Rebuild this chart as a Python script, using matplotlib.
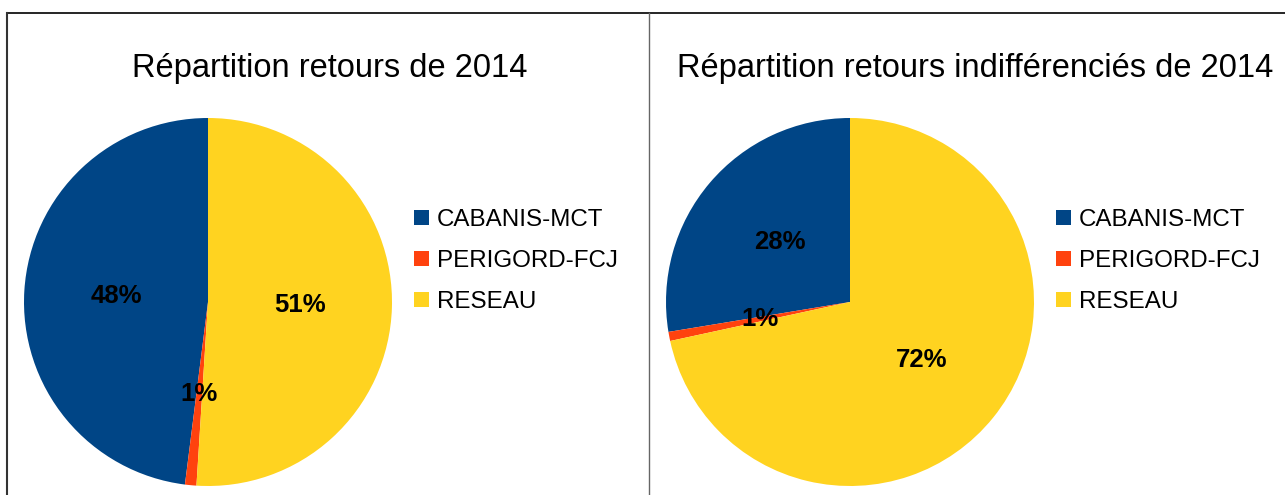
import matplotlib.pyplot as plt
from matplotlib.lines import Line2D

# data
categories = ['CABANIS-MCT', 'PERIGORD-FCJ', 'RESEAU']
retours_2014 = [48.0, 1.0, 51.0]
retours_indiff_2014 = [27.6, 0.8, 71.6]
titles = ['Répartition retours de 2014', 'Répartition retours indifférenciés de 2014']
colors = ['#004586', '#ff420e', '#ffd320']

plt.rcParams['font.family'] = ['Liberation Sans', 'DejaVu Sans']

W, H = 1285, 495
fig = plt.figure(figsize=(W / 100, H / 100), dpi=100)
fig.patch.set_facecolor('white')

def px_axes(cx, cy, r):
    return fig.add_axes([(cx - r) / W, (H - cy - r) / H, 2 * r / W, 2 * r / H])

panels = [
    (retours_2014, titles[0], 208, 302, 330, 414),
    (retours_indiff_2014, titles[1], 850, 302, 975, 1056),
]

for vals, title, cx, cy, tx, lx in panels:
    r = 184
    ax = px_axes(cx, cy, r)
    wedges, texts, autotexts = ax.pie(vals, colors=colors, startangle=90, counterclock=True,
                                      autopct='%.0f%%', pctdistance=0.5, radius=1,
                                      textprops=dict(fontsize=18.5, fontweight='bold', color='black'))
    ax.set_xlim(-1, 1)
    ax.set_ylim(-1, 1)
    ax.set_aspect('equal')
    ax.set_axis_off()
    fig.text(tx / W, (H - 68) / H, title, fontsize=23.5, ha='center', va='center')
    fig.legend(wedges, categories, loc='center left', bbox_to_anchor=(lx / W, (H - 261) / H),
               frameon=False, fontsize=17.4, handlelength=0.6, handleheight=0.6,
               handletextpad=0.35, labelspacing=0.78, borderpad=0, borderaxespad=0)

# panel borders
fig.add_artist(Line2D([7 / W, 1], [(H - 13) / H] * 2, color='black', lw=1.2))
fig.add_artist(Line2D([7 / W] * 2, [0, (H - 13) / H], color='#333333', lw=1.5))
fig.add_artist(Line2D([649 / W] * 2, [0, (H - 13) / H], color='#666666', lw=1))

fig.savefig('out.png', dpi=100)
